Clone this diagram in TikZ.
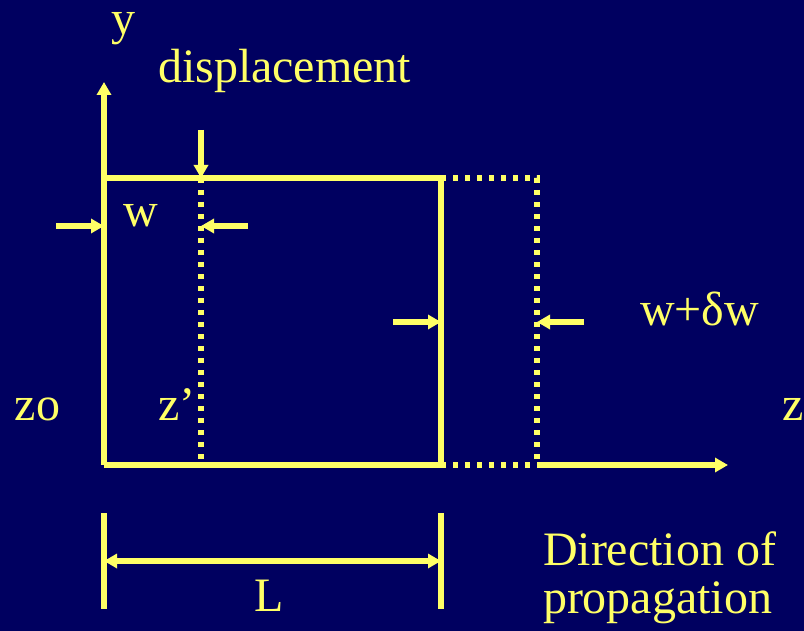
\documentclass[tikz,border=0pt]{standalone}
\usepackage{fontspec}
\setmainfont{Liberation Serif}
\usetikzlibrary{arrows.meta,positioning}
\definecolor{navy}{HTML}{000060}
\definecolor{pale}{HTML}{FFFF66}

\begin{document}
\begin{tikzpicture}[x=0.5pt, y=-0.5pt, font=\fontsize{24}{28}\selectfont, line width=3pt,
  solid line/.style={draw=pale},
  dots/.style={draw=pale, dash pattern=on 2.5pt off 3.5pt},
  arr/.style={draw=pale, -{Triangle[length=6.5pt,width=7pt]}},
  both/.style={draw=pale, {Triangle[length=6.5pt,width=7pt]}-{Triangle[length=6.5pt,width=7pt]}},
  lbl/.style={text=pale, inner sep=0pt, anchor=base west}]
% background and page size
\fill[navy] (0,0) rectangle (804,631);
\useasboundingbox (0,0) rectangle (804,631);

% corners of the block
\coordinate (o) at (104,465);
\coordinate (tl) at (104,178);
\coordinate (tr) at (441,178);
\coordinate (br) at (441,465);
\coordinate (td) at (537,178);
\coordinate (bd) at (537,465);
\coordinate (mt) at (201,178);
\coordinate (mb) at (201,465);
\coordinate (ytip) at (104,82);
\coordinate (ztip) at (728,465);

% axes and block
\draw[arr] (o) -- (ytip);
\draw[solid line] (o) -- (br);
\draw[dots] (br) -- (bd);
\draw[arr] (bd) -- (ztip);
\draw[solid line] (tl) -- (tr) -- (br);
\draw[dots] (tr) -- (td) -- (bd);
\draw[dots] (mt) -- (mb);

% displacement marker
\coordinate (dtop) at (201,130);
\draw[arr] (dtop) -- (mt);

% width arrows
\coordinate (wl) at (56,226);
\coordinate (wlend) at (104,226);
\coordinate (wr) at (248,226);
\coordinate (wrend) at (201,226);
\draw[arr] (wl) -- (wlend);
\draw[arr] (wr) -- (wrend);
\coordinate (dwl) at (393,322);
\coordinate (dwlend) at (441,322);
\coordinate (dwr) at (584,322);
\coordinate (dwrend) at (537,322);
\draw[arr] (dwl) -- (dwlend);
\draw[arr] (dwr) -- (dwrend);

% length L
\coordinate (la) at (104,513);
\coordinate (lb) at (104,609);
\coordinate (ra) at (441,513);
\coordinate (rb) at (441,609);
\coordinate (lm) at (104,561);
\coordinate (rm) at (441,561);
\draw[solid line] (la) -- (lb);
\draw[solid line] (ra) -- (rb);
\draw[both] (lm) -- (rm);

% labels
\node[lbl] (ylbl) at (108,35) {y};
\node[lbl] (displ) at (155,83) {displacement};
\node[lbl] (wlbl) at (120,227) {w};
\node[lbl] (dwlbl) at (637,325) {w+δw};
\node[lbl] (zo) at (12,420) {zo};
\node[lbl] (zp) at (155,420) {z’};
\node[lbl] (zlbl) at (779,420) {z};
\node[lbl] (llbl) at (251,611) {L};
\node[lbl] (dir) at (540,565) {Direction of};
\node[lbl] (prop) at (540,613) {propagation};
\end{tikzpicture}
\end{document}
